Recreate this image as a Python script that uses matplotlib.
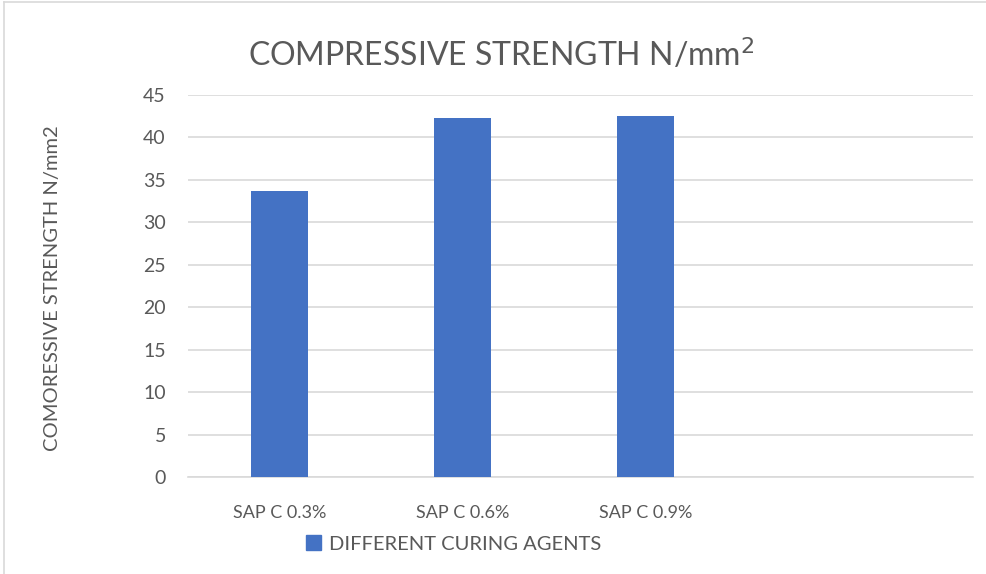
import matplotlib
matplotlib.use("Agg")
import matplotlib.pyplot as plt
from matplotlib.lines import Line2D
from matplotlib.patches import Patch

plt.rcParams["font.family"] = ["Lato", "DejaVu Sans"]

categories = ["SAP C 0.3%", "SAP C 0.6%", "SAP C 0.9%"]
strength = [33.7, 42.3, 42.5]
yticks = [0, 5, 10, 15, 20, 25, 30, 35, 40, 45]

BAR = "#4472C4"
TXT = "#595959"
GRID = "#D9D9D9"

fig = plt.figure(figsize=(9.87, 5.74), dpi=100)
ax = fig.add_axes([0.1905, 0.169, 0.7953, 0.666])

x = list(range(len(categories)))
ax.bar(x, strength, width=0.315, color=BAR, zorder=3)

ax.set_xlim(-0.5, 3.79)
ax.set_ylim(0, 45)
ax.set_yticks(yticks)
ax.set_xticks(x)
ax.set_xticklabels(categories)
ax.tick_params(axis="both", length=0, colors=TXT)
ax.tick_params(axis="y", pad=16, labelsize=14)
ax.tick_params(axis="x", pad=20, labelsize=13)
ax.grid(axis="y", color=GRID, lw=1.2, zorder=0)
for s in ["top", "right", "left"]:
    ax.spines[s].set_visible(False)
ax.spines["bottom"].set_color(GRID)
ax.spines["bottom"].set_linewidth(1.2)

# y axis title
fig.text(53 / 987, 1 - 288 / 574, "COMORESSIVE STRENGTH N/mm2", rotation=90,
         ha="center", va="center", color=TXT, fontsize=14.5)

fig.text(0.5076, 1 - 65.7 / 574, r"COMPRESSIVE STRENGTH N/mm$^2$", ha="center",
         va="baseline", color=TXT, fontsize=23)

fig.legend(handles=[Patch(color=BAR, label="DIFFERENT CURING AGENTS")],
           loc="center", bbox_to_anchor=(0.46, 0.052), frameon=False,
           fontsize=14.5, labelcolor=TXT, handlelength=0.75, handleheight=0.75,
           handletextpad=0.4)

# outer chart frame (left and top edges)
fig.add_artist(Line2D([4.5 / 987, 4.5 / 987], [0, 1 - 2 / 574], color=GRID, lw=1.2))
fig.add_artist(Line2D([4.5 / 987, 1], [1 - 2 / 574, 1 - 2 / 574], color=GRID, lw=1.2))

fig.savefig("out.png", dpi=100, facecolor="white")
